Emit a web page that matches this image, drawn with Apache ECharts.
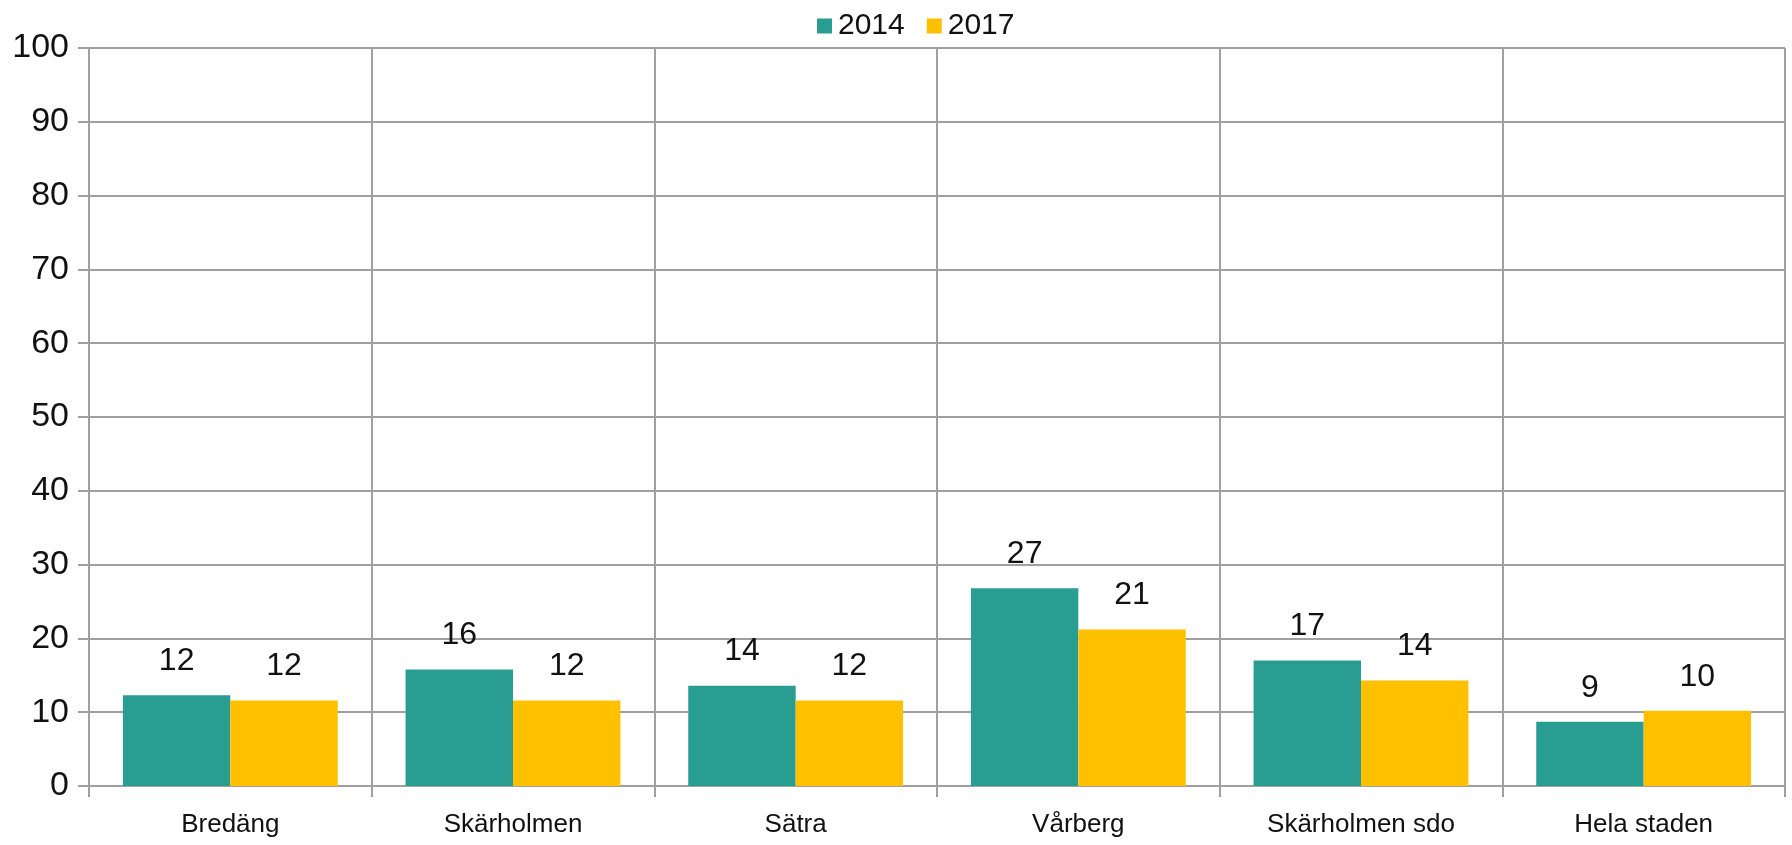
<!DOCTYPE html>
<html>
<head>
<meta charset="utf-8">
<title>2014 / 2017</title>
<script src="https://cdn.jsdelivr.net/npm/echarts@6/dist/echarts.min.js"></script>
<style>
    html, body { margin: 0; padding: 0; background: #fff; }
    #chart { width: 1792px; height: 845px; }
</style>
</head>
<body>
<div id="chart"></div>
<script>
// data
var categories = ['Bredäng', 'Skärholmen', 'Sätra', 'Vårberg', 'Skärholmen sdo', 'Hela staden'];
var values2014 = [12.3, 15.8, 13.6, 26.8, 17.0, 8.7];
var values2017 = [11.6, 11.6, 11.6, 21.2, 14.3, 10.2];
var yTicks = [0, 10, 20, 30, 40, 50, 60, 70, 80, 90, 100];

var gridColor = '#a0a0a0';
var font = 'Liberation Sans, Arial, sans-serif';

var chart = echarts.init(document.getElementById('chart'));

function barLabel() {
    return {
        show: true,
        position: 'top',
        distance: 18,
        color: '#111',
        fontFamily: font,
        fontSize: 32,
        formatter: function (p) {
            return Math.round(p.value);
        }
    };
}

var option = {
    animation: false,
    legend: {
        top: 6,
        left: 812,
        itemWidth: 15,
        itemHeight: 15,
        itemGap: 22,
        icon: 'rect',
        textStyle: {
            color: '#111',
            fontFamily: font,
            fontSize: 30,
            padding: [0, 0, 0, 1]
        },
        data: ['2014', '2017']
    },
    grid: {
        left: 89,
        right: 7,
        top: 48,
        bottom: 59
    },
    xAxis: {
        type: 'category',
        data: categories,
        axisLine: { show: true, lineStyle: { color: gridColor, width: 2 } },
        axisTick: { show: true, length: 11, lineStyle: { color: gridColor, width: 2 } },
        splitLine: { show: true, interval: 0, lineStyle: { color: gridColor, width: 2 } },
        axisLabel: {
            color: '#111',
            fontFamily: font,
            fontSize: 26,
            margin: 26,
            interval: 0
        }
    },
    yAxis: {
        type: 'value',
        min: yTicks[0],
        max: yTicks[yTicks.length - 1],
        interval: 10,
        axisLine: { show: true, lineStyle: { color: gridColor, width: 2 } },
        axisTick: { show: true, length: 11, lineStyle: { color: gridColor, width: 2 } },
        splitLine: { show: true, lineStyle: { color: gridColor, width: 2 } },
        axisLabel: {
            color: '#111',
            fontFamily: font,
            fontSize: 34,
            margin: 20
        }
    },
    series: [
        {
            name: '2014',
            type: 'bar',
            data: values2014,
            barWidth: '38%',
            barGap: '0%',
            itemStyle: { color: '#2a9d93' },
            label: barLabel()
        },
        {
            name: '2017',
            type: 'bar',
            data: values2017,
            barWidth: '38%',
            barGap: '0%',
            itemStyle: { color: '#ffc000' },
            label: barLabel()
        }
    ]
};

chart.setOption(option);
</script>
</body>
</html>
